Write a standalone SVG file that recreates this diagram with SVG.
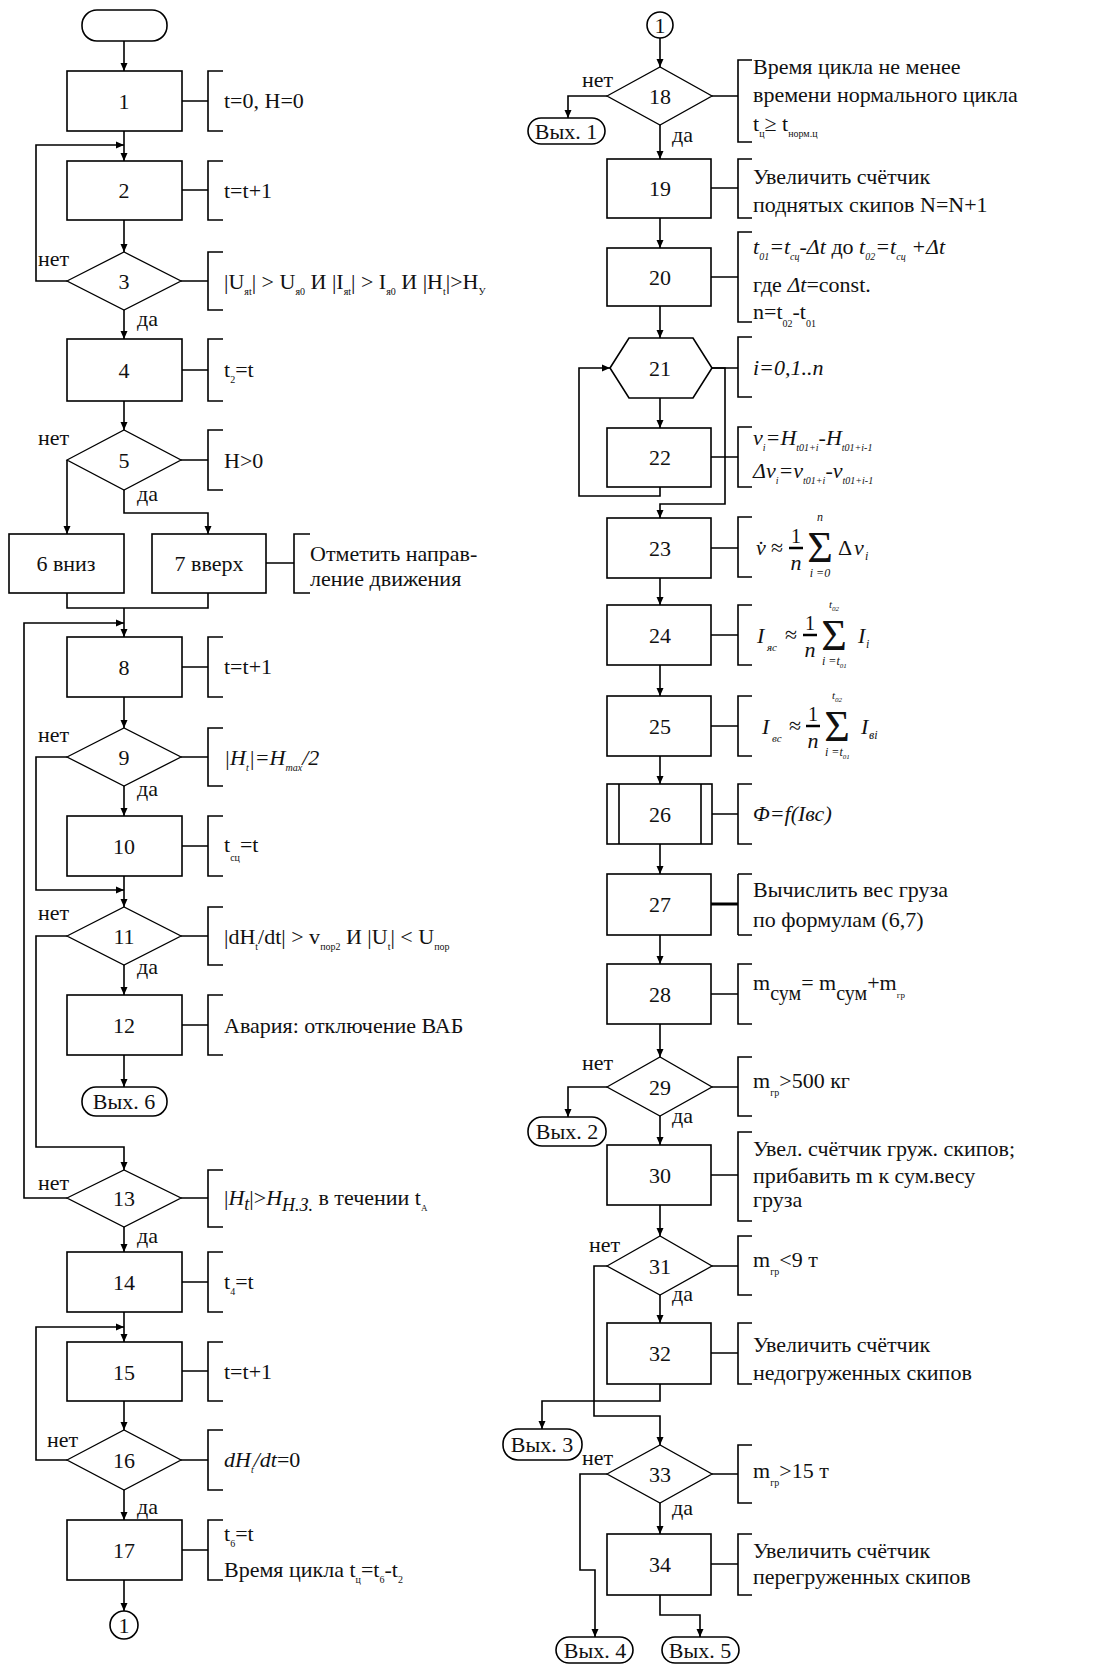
<svg xmlns="http://www.w3.org/2000/svg" width="1099" height="1667" viewBox="0 0 1099 1667">
<defs>
<marker id="ar" markerUnits="userSpaceOnUse" markerWidth="8" markerHeight="8" refX="8" refY="4" orient="auto"><path d="M0,0.5 L8,4 L0,7.5 z" fill="#000"/></marker>
<style>
.ln{fill:none;stroke:#000;stroke-width:1.6}
.cn{fill:none;stroke:#000;stroke-width:1.6;marker-end:url(#ar)}
.sh{fill:#fff;stroke:#000;stroke-width:1.6}
.dm{fill:#fff;stroke:#000;stroke-width:1.3}
text{font-family:"Liberation Serif","Times New Roman",serif;font-size:22px;fill:#111}
.c{text-anchor:middle}
.i{font-style:italic}
.s{font-size:10px}
.m{font-size:12px}
.sm{font-size:11px}
.f1{font-size:20px}
.sg{font-size:44px}
.n{font-style:normal}
</style>
</defs>
<rect width="1099" height="1667" fill="#fff"/>

<g id="connectors">
<path class="cn" d="M124,41 V71"/>
<path class="cn" d="M124,131 V161"/>
<path class="cn" d="M67,281 H36 V145 H124"/>
<path class="cn" d="M124,220 V252"/>
<path class="cn" d="M124,310 V339"/>
<path class="cn" d="M124,401 V430"/>
<path class="cn" d="M67,460 V534"/>
<path class="cn" d="M124,490 V513 H208 V534"/>
<path class="ln" d="M67,593 V608 H208 V593"/>
<path class="cn" d="M124,608 V637"/>
<path class="cn" d="M67,1198 H24 V623 H124"/>
<path class="cn" d="M124,697 V728"/>
<path class="cn" d="M67,757 H36 V890 H124"/>
<path class="cn" d="M124,786 V816"/>
<path class="cn" d="M124,876 V907"/>
<path class="cn" d="M67,936 H36 V1147 H124 V1170"/>
<path class="cn" d="M124,965 V995"/>
<path class="cn" d="M124,1055 V1087"/>
<path class="cn" d="M124,1227 V1252"/>
<path class="cn" d="M124,1312 V1342"/>
<path class="cn" d="M67,1460 H36 V1327 H124"/>
<path class="cn" d="M124,1401 V1430"/>
<path class="cn" d="M124,1490 V1520"/>
<path class="cn" d="M124,1580 V1611"/>
<path class="cn" d="M660,38 V67"/>
<path class="cn" d="M607,96 H568 V118"/>
<path class="cn" d="M660,125 V159"/>
<path class="cn" d="M660,218 V248"/>
<path class="cn" d="M660,306 V338"/>
<path class="cn" d="M660,398 V428"/>
<path class="cn" d="M660,487 V496 H579 V368 H610"/>
<path class="cn" d="M712,368 H725 V504 H660 V518"/>
<path class="cn" d="M660,578 V605"/>
<path class="cn" d="M660,665 V696"/>
<path class="cn" d="M660,756 V784"/>
<path class="cn" d="M660,844 V874"/>
<path class="cn" d="M660,935 V964"/>
<path class="cn" d="M660,1024 V1057"/>
<path class="cn" d="M607,1087 H568 V1117"/>
<path class="cn" d="M660,1116 V1145"/>
<path class="cn" d="M660,1205 V1236"/>
<path class="cn" d="M607,1266 H594 V1416 H660 V1445"/>
<path class="cn" d="M660,1295 V1323"/>
<path class="cn" d="M660,1384 V1401 H542 V1429"/>
<path class="cn" d="M607,1474 H580 V1570 H595 V1637"/>
<path class="cn" d="M660,1503 V1534"/>
<path class="cn" d="M660,1595 V1615 H700 V1637"/>
</g>

<g id="labels">
<text x="38" y="266">нет</text><text x="137" y="326">да</text>
<text x="38" y="445">нет</text><text x="137" y="501">да</text>
<text x="38" y="742">нет</text><text x="137" y="796">да</text>
<text x="38" y="920">нет</text><text x="137" y="974">да</text>
<text x="38" y="1190">нет</text><text x="137" y="1243">да</text>
<text x="47" y="1447">нет</text><text x="137" y="1514">да</text>
<text x="582" y="87">нет</text><text x="672" y="142">да</text>
<text x="582" y="1070">нет</text><text x="672" y="1123">да</text>
<text x="589" y="1252">нет</text><text x="672" y="1301">да</text>
<text x="582" y="1465">нет</text><text x="672" y="1515">да</text>
</g>

<g id="start"><rect class="sh" x="82" y="10" width="85" height="31" rx="15"/></g>

<g id="n1"><rect class="sh" x="67" y="71" width="115" height="60"/><text class="c" x="124" y="109">1</text>
<path class="ln" d="M182,101 H208 M223,71 H208 V131 H223"/><text x="224" y="108">t=0, H=0</text></g>

<g id="n2"><rect class="sh" x="67" y="161" width="115" height="59"/><text class="c" x="124" y="198">2</text>
<path class="ln" d="M182,190 H208 M223,161 H208 V220 H223"/><text x="224" y="198">t=t+1</text></g>

<g id="n3"><polygon class="dm" points="67,281 124,252 181,281 124,310"/><text class="c" x="124" y="289">3</text>
<path class="ln" d="M181,281 H208 M223,252 H208 V310 H223"/>
<text x="224" y="289">|U<tspan class="s" dy="6">яt</tspan><tspan dy="-6">| &gt; U</tspan><tspan class="s" dy="6">я0</tspan><tspan dy="-6"> И |I</tspan><tspan class="s" dy="6">яt</tspan><tspan dy="-6">| &gt; I</tspan><tspan class="s" dy="6">я0</tspan><tspan dy="-6"> И |H</tspan><tspan class="s" dy="6">t</tspan><tspan dy="-6">|&gt;H</tspan><tspan class="s" dy="6">У</tspan></text></g>

<g id="n4"><rect class="sh" x="67" y="339" width="115" height="62"/><text class="c" x="124" y="378">4</text>
<path class="ln" d="M182,370 H208 M223,339 H208 V401 H223"/><text x="224" y="377">t<tspan class="s" dy="6">2</tspan><tspan dy="-6">=t</tspan></text></g>

<g id="n5"><polygon class="dm" points="67,460 124,430 181,460 124,490"/><text class="c" x="124" y="468">5</text>
<path class="ln" d="M181,460 H208 M223,430 H208 V490 H223"/><text x="224" y="468">H&gt;0</text></g>

<g id="n6"><rect class="sh" x="9" y="534" width="115" height="59"/><text class="c" x="66" y="571">6 вниз</text></g>

<g id="n7"><rect class="sh" x="152" y="534" width="114" height="59"/><text class="c" x="209" y="571">7 вверх</text>
<path class="ln" d="M266,563 H294 M310,534 H294 V593 H310"/><text x="310" y="561">Отметить направ-</text><text x="310" y="586">ление движения</text></g>

<g id="n8"><rect class="sh" x="67" y="637" width="115" height="60"/><text class="c" x="124" y="675">8</text>
<path class="ln" d="M182,667 H208 M223,637 H208 V697 H223"/><text x="224" y="674">t=t+1</text></g>

<g id="n9"><polygon class="dm" points="67,757 124,728 181,757 124,786"/><text class="c" x="124" y="765">9</text>
<path class="ln" d="M181,757 H208 M223,728 H208 V786 H223"/><text class="i" x="224" y="765">|H<tspan class="s" dy="6">t</tspan><tspan dy="-6">|=H</tspan><tspan class="s" dy="6">max</tspan><tspan dy="-6">/2</tspan></text></g>

<g id="n10"><rect class="sh" x="67" y="816" width="115" height="60"/><text class="c" x="124" y="854">10</text>
<path class="ln" d="M182,846 H208 M223,816 H208 V876 H223"/><text x="224" y="852">t<tspan class="s" dy="9">сц</tspan><tspan dy="-9">=t</tspan></text></g>

<g id="n11"><polygon class="dm" points="67,936 124,907 181,936 124,965"/><text class="c" x="124" y="944">11</text>
<path class="ln" d="M181,936 H208 M223,907 H208 V965 H223"/>
<text x="224" y="944">|dH<tspan class="s" dy="6">t</tspan><tspan dy="-6">/dt| &gt; v</tspan><tspan class="s" dy="6">пор2</tspan><tspan dy="-6"> И |U</tspan><tspan class="s" dy="6">t</tspan><tspan dy="-6">| &lt; U</tspan><tspan class="s" dy="6">пор</tspan></text></g>

<g id="n12"><rect class="sh" x="67" y="995" width="115" height="60"/><text class="c" x="124" y="1033">12</text>
<path class="ln" d="M182,1025 H208 M223,995 H208 V1055 H223"/><text x="224" y="1033">Авария: отключение ВАБ</text></g>

<g id="exit6"><rect class="sh" x="82" y="1087" width="85" height="29" rx="14"/><text class="c" x="124" y="1109">Вых. 6</text></g>

<g id="n13"><polygon class="dm" points="67,1198 124,1170 181,1198 124,1227"/><text class="c" x="124" y="1206">13</text>
<path class="ln" d="M181,1198 H208 M223,1170 H208 V1227 H223"/>
<text x="224" y="1205">|<tspan class="i">H</tspan><tspan class="i" font-size="18" dy="5">t</tspan><tspan dy="-5">|&gt;</tspan><tspan class="i">H</tspan><tspan class="i" font-size="18" dy="6">H.З.</tspan><tspan dy="-6"> в течении t</tspan><tspan font-size="9" dy="6">А</tspan></text></g>

<g id="n14"><rect class="sh" x="67" y="1252" width="115" height="60"/><text class="c" x="124" y="1290">14</text>
<path class="ln" d="M182,1282 H208 M223,1252 H208 V1312 H223"/><text x="224" y="1289">t<tspan class="s" dy="6">4</tspan><tspan dy="-6">=t</tspan></text></g>

<g id="n15"><rect class="sh" x="67" y="1342" width="115" height="59"/><text class="c" x="124" y="1380">15</text>
<path class="ln" d="M182,1371 H208 M223,1342 H208 V1401 H223"/><text x="224" y="1379">t=t+1</text></g>

<g id="n16"><polygon class="dm" points="67,1460 124,1430 181,1460 124,1490"/><text class="c" x="124" y="1468">16</text>
<path class="ln" d="M181,1460 H208 M223,1430 H208 V1490 H223"/><text class="i" x="224" y="1467">dH<tspan class="s" dy="6">t</tspan><tspan dy="-6">/dt</tspan><tspan class="n">=0</tspan></text></g>

<g id="n17"><rect class="sh" x="67" y="1520" width="115" height="60"/><text class="c" x="124" y="1558">17</text>
<path class="ln" d="M182,1550 H208 M223,1520 H208 V1580 H223"/>
<text x="224" y="1541">t<tspan class="s" dy="6">6</tspan><tspan dy="-6">=t</tspan></text>
<text x="224" y="1577">Время цикла t<tspan class="s" dy="6">ц</tspan><tspan dy="-6">=t</tspan><tspan class="s" dy="6">6</tspan><tspan dy="-6">-t</tspan><tspan class="s" dy="6">2</tspan></text></g>

<g id="conn1a"><circle class="sh" cx="124" cy="1625" r="14"/><text class="c" x="124" y="1633">1</text></g>

<g id="conn1b"><circle class="sh" cx="660" cy="25" r="13"/><text class="c" x="660" y="33">1</text></g>

<g id="n18"><polygon class="dm" points="607,96 660,67 712,96 660,125"/><text class="c" x="660" y="104">18</text>
<path class="ln" d="M712,96 H738 M752,60 H738 V142 H752"/>
<text x="753" y="74">Время цикла не менее</text><text x="753" y="102">времени нормального цикла</text>
<text x="753" y="131">t<tspan class="s" dy="6">ц</tspan><tspan dy="-6">≥ t</tspan><tspan class="s" dy="6">норм.ц</tspan></text></g>

<g id="exit1"><rect class="sh" x="528" y="118" width="77" height="26" rx="13"/><text class="c" x="566" y="139">Вых. 1</text></g>

<g id="n19"><rect class="sh" x="607" y="159" width="104" height="59"/><text class="c" x="660" y="196">19</text>
<path class="ln" d="M711,188 H738 M752,159 H738 V218 H752"/><text x="753" y="184">Увеличить счётчик</text><text x="753" y="212">поднятых скипов N=N+1</text></g>

<g id="n20"><rect class="sh" x="607" y="248" width="104" height="58"/><text class="c" x="660" y="285">20</text>
<path class="ln" d="M711,277 H738 M752,232 H738 V322 H752"/>
<text class="i" x="753" y="254">t<tspan class="s" dy="6">01</tspan><tspan dy="-6">=t</tspan><tspan class="s" dy="6">сц</tspan><tspan dy="-6">-Δt</tspan><tspan class="n"> до </tspan>t<tspan class="s" dy="6">02</tspan><tspan dy="-6">=t</tspan><tspan class="s" dy="6">сц</tspan><tspan dy="-6"> +Δt</tspan></text>
<text x="753" y="292">где <tspan class="i">Δt</tspan>=const.</text>
<text x="753" y="319">n=t<tspan class="s" dy="8">02</tspan><tspan dy="-8">-t</tspan><tspan class="s" dy="8">01</tspan></text></g>

<g id="n21"><polygon class="sh" points="610,368 629,338 693,338 712,368 693,398 629,398"/><text class="c" x="660" y="376">21</text>
<path class="ln" d="M712,368 H738 M752,337 H738 V397 H752"/><text class="i" x="753" y="375">i=0,1..n</text></g>

<g id="n22"><rect class="sh" x="607" y="428" width="104" height="59"/><text class="c" x="660" y="465">22</text>
<path class="ln" d="M711,457 H738 M752,427 H738 V487 H752"/>
<text class="i" x="753" y="445">v<tspan class="s" dy="6">i</tspan><tspan dy="-6">=H</tspan><tspan class="s" dy="6">t01+i</tspan><tspan dy="-6">-H</tspan><tspan class="s" dy="6">t01+i-1</tspan></text>
<text class="i" x="753" y="478">Δv<tspan class="s" dy="6">i</tspan><tspan dy="-6">=v</tspan><tspan class="s" dy="6">t01+i</tspan><tspan dy="-6">-v</tspan><tspan class="s" dy="6">t01+i-1</tspan></text></g>

<g id="n23"><rect class="sh" x="607" y="518" width="104" height="60"/><text class="c" x="660" y="556">23</text>
<path class="ln" d="M711,548 H738 M752,517 H738 V577 H752"/>
<text class="i" x="756" y="555">v̇</text><text x="771" y="555">≈</text>
<text class="c f1" x="796" y="543">1</text><path d="M789,548 H803" stroke="#000" stroke-width="2.5"/>
<text class="c i" x="796" y="570">n</text>
<text class="c sg" x="820" y="562">Σ</text>
<text class="c i m" x="820" y="521">n</text><text class="c i m" x="820" y="577">i =0</text>
<text x="838" y="555">Δ</text><text class="i" x="854" y="555">v</text><text class="i m" x="865" y="560">i</text></g>

<g id="n24"><rect class="sh" x="607" y="605" width="104" height="60"/><text class="c" x="660" y="643">24</text>
<path class="ln" d="M711,635 H738 M752,605 H738 V665 H752"/>
<text class="i" x="757" y="643">I</text><text class="i sm" x="767" y="651">яс</text><text x="785" y="642">≈</text>
<text class="c f1" x="810" y="630">1</text><path d="M803,635 H817" stroke="#000" stroke-width="2.5"/>
<text class="c i" x="810" y="657">n</text>
<text class="c sg" x="834" y="650">Σ</text>
<text class="i sm" x="829" y="608">t<tspan font-size="7" dy="3">02</tspan></text>
<text class="i m" x="822" y="665">i =t<tspan font-size="7" dy="3">01</tspan></text>
<text class="i" x="858" y="643">I</text><text class="i m" x="866" y="648">i</text></g>

<g id="n25"><rect class="sh" x="607" y="696" width="104" height="60"/><text class="c" x="660" y="734">25</text>
<path class="ln" d="M711,726 H738 M752,696 H738 V756 H752"/>
<text class="i" x="762" y="734">I</text><text class="i sm" x="772" y="742">вс</text><text x="789" y="733">≈</text>
<text class="c f1" x="813" y="721">1</text><path d="M806,726 H820" stroke="#000" stroke-width="2.5"/>
<text class="c i" x="813" y="748">n</text>
<text class="c sg" x="837" y="741">Σ</text>
<text class="i sm" x="832" y="699">t<tspan font-size="7" dy="3">02</tspan></text>
<text class="i m" x="825" y="756">i =t<tspan font-size="7" dy="3">01</tspan></text>
<text class="i" x="861" y="734">I</text><text class="i m" x="869" y="739">вi</text></g>

<g id="n26"><rect class="sh" x="607" y="784" width="105" height="60"/><path class="ln" d="M619,784 V844 M701,784 V844"/><text class="c" x="660" y="822">26</text>
<path class="ln" d="M712,814 H738 M752,784 H738 V844 H752"/><text class="i" x="753" y="821">Φ=f(Iвс)</text></g>

<g id="n27"><rect class="sh" x="607" y="874" width="104" height="61"/><text class="c" x="660" y="912">27</text>
<path class="ln" d="M738,874 V935 M752,874 H738 M752,935 H738"/><path d="M711,904 H738" stroke="#000" stroke-width="3"/>
<text x="753" y="897">Вычислить вес груза</text><text x="753" y="927">по формулам (6,7)</text></g>

<g id="n28"><rect class="sh" x="607" y="964" width="104" height="60"/><text class="c" x="660" y="1002">28</text>
<path class="ln" d="M711,994 H738 M752,964 H738 V1024 H752"/>
<text x="753" y="990">m<tspan font-size="20" dy="10">сум</tspan><tspan dy="-10">= m</tspan><tspan font-size="20" dy="10">сум</tspan><tspan dy="-10">+m</tspan><tspan font-size="9" dy="8">гр</tspan></text></g>

<g id="n29"><polygon class="dm" points="607,1087 660,1057 712,1087 660,1116"/><text class="c" x="660" y="1095">29</text>
<path class="ln" d="M712,1087 H738 M752,1057 H738 V1116 H752"/>
<text x="753" y="1088">m<tspan class="s" dy="8">гр</tspan><tspan dy="-8">&gt;500 кг</tspan></text></g>

<g id="exit2"><rect class="sh" x="528" y="1117" width="78" height="29" rx="14"/><text class="c" x="567" y="1139">Вых. 2</text></g>

<g id="n30"><rect class="sh" x="607" y="1145" width="104" height="60"/><text class="c" x="660" y="1183">30</text>
<path class="ln" d="M711,1175 H738 M752,1132 H738 V1221 H752"/>
<text x="753" y="1156">Увел. счётчик груж. скипов;</text><text x="753" y="1183">прибавить m к сум.весу</text><text x="753" y="1207">груза</text></g>

<g id="n31"><polygon class="dm" points="607,1266 660,1236 712,1266 660,1295"/><text class="c" x="660" y="1274">31</text>
<path class="ln" d="M712,1266 H738 M752,1236 H738 V1295 H752"/>
<text x="753" y="1267">m<tspan class="s" dy="8">гр</tspan><tspan dy="-8">&lt;9 т</tspan></text></g>

<g id="n32"><rect class="sh" x="607" y="1323" width="104" height="61"/><text class="c" x="660" y="1361">32</text>
<path class="ln" d="M711,1353 H738 M752,1323 H738 V1384 H752"/>
<text x="753" y="1352">Увеличить счётчик</text><text x="753" y="1380">недогруженных скипов</text></g>

<g id="exit3"><rect class="sh" x="503" y="1429" width="79" height="31" rx="15"/><text class="c" x="542" y="1452">Вых. 3</text></g>

<g id="n33"><polygon class="dm" points="607,1474 660,1445 712,1474 660,1503"/><text class="c" x="660" y="1482">33</text>
<path class="ln" d="M712,1474 H738 M752,1445 H738 V1503 H752"/>
<text x="753" y="1478">m<tspan class="s" dy="8">гр</tspan><tspan dy="-8">&gt;15 т</tspan></text></g>

<g id="n34"><rect class="sh" x="607" y="1534" width="104" height="61"/><text class="c" x="660" y="1572">34</text>
<path class="ln" d="M711,1564 H738 M752,1534 H738 V1595 H752"/>
<text x="753" y="1558">Увеличить счётчик</text><text x="753" y="1584">перегруженных скипов</text></g>

<g id="exit4"><rect class="sh" x="556" y="1637" width="77" height="26" rx="13"/><text class="c" x="595" y="1658">Вых. 4</text></g>
<g id="exit5"><rect class="sh" x="662" y="1637" width="77" height="26" rx="13"/><text class="c" x="700" y="1658">Вых. 5</text></g>
</svg>
